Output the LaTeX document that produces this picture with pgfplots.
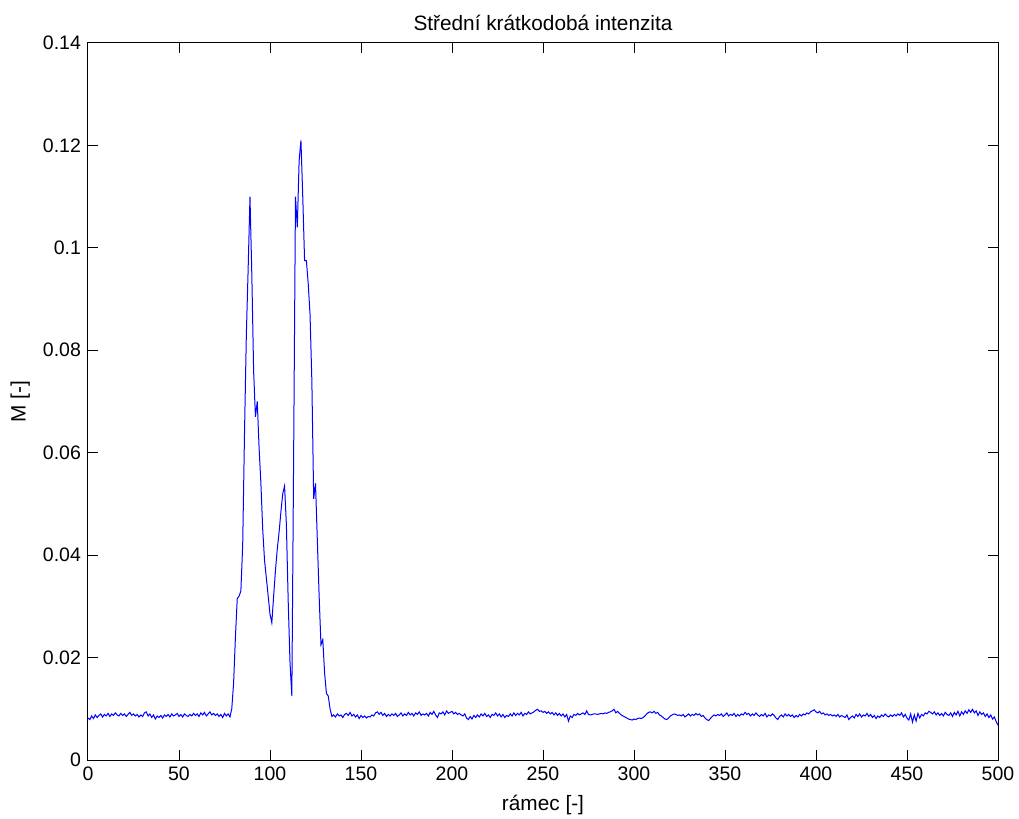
\documentclass[border=0pt]{standalone}
\usepackage{fontspec}
\setmainfont{Liberation Sans}
\usepackage{pgfplots}
\usepackage{pgfplotstable}
\pgfplotsset{compat=1.18}

% one value per frame (frame 0 ... 500)
\pgfplotstableread[row sep=\\, header=false]{
.0082\\ .0079\\ .0086\\ .0081\\ .0088\\ .0083\\ .0087\\ .0090\\ .0084\\ .0089\\
.0086\\ .0091\\ .0085\\ .0090\\ .0087\\ .0092\\ .0088\\ .0086\\ .0091\\ .0087\\
.0090\\ .0085\\ .0089\\ .0093\\ .0087\\ .0090\\ .0086\\ .0089\\ .0084\\ .0088\\
.0085\\ .0092\\ .0094\\ .0086\\ .0090\\ .0083\\ .0088\\ .0080\\ .0086\\ .0083\\
.0087\\ .0082\\ .0088\\ .0085\\ .0089\\ .0084\\ .0090\\ .0086\\ .0088\\ .0091\\
.0085\\ .0089\\ .0084\\ .0090\\ .0087\\ .0085\\ .0089\\ .0086\\ .0091\\ .0087\\
.0090\\ .0085\\ .0092\\ .0088\\ .0093\\ .0086\\ .0090\\ .0094\\ .0088\\ .0091\\
.0087\\ .0090\\ .0085\\ .0089\\ .0083\\ .0091\\ .0086\\ .0090\\ .0084\\ .0100\\
.0150\\ .0240\\ .0315\\ .0320\\ .0330\\ .0420\\ .0640\\ .0830\\ .0960\\ .1100\\
.0950\\ .0760\\ .0670\\ .0700\\ .0610\\ .0540\\ .0450\\ .0390\\ .0355\\ .0320\\
.0285\\ .0268\\ .0320\\ .0370\\ .0412\\ .0445\\ .0485\\ .0520\\ .0535\\ .0460\\
.0310\\ .0190\\ .0125\\ .0600\\ .1100\\ .1040\\ .1170\\ .1210\\ .1100\\ .0975\\
.0975\\ .0930\\ .0870\\ .0740\\ .0510\\ .0540\\ .0430\\ .0320\\ .0225\\ .0235\\
.0170\\ .0130\\ .0125\\ .0100\\ .0085\\ .0088\\ .0084\\ .0090\\ .0086\\ .0088\\
.0083\\ .0089\\ .0091\\ .0087\\ .0093\\ .0086\\ .0089\\ .0084\\ .0088\\ .0081\\
.0087\\ .0083\\ .0086\\ .0082\\ .0085\\ .0084\\ .0088\\ .0086\\ .0092\\ .0094\\
.0089\\ .0093\\ .0087\\ .0091\\ .0085\\ .0089\\ .0086\\ .0090\\ .0087\\ .0091\\
.0085\\ .0088\\ .0092\\ .0086\\ .0090\\ .0087\\ .0093\\ .0088\\ .0091\\ .0086\\
.0092\\ .0089\\ .0094\\ .0087\\ .0090\\ .0088\\ .0091\\ .0086\\ .0093\\ .0089\\
.0095\\ .0088\\ .0083\\ .0092\\ .0090\\ .0094\\ .0088\\ .0096\\ .0091\\ .0093\\
.0095\\ .0090\\ .0093\\ .0089\\ .0091\\ .0088\\ .0086\\ .0090\\ .0082\\ .0079\\
.0085\\ .0080\\ .0087\\ .0083\\ .0088\\ .0084\\ .0090\\ .0086\\ .0091\\ .0085\\
.0088\\ .0083\\ .0089\\ .0087\\ .0092\\ .0086\\ .0090\\ .0084\\ .0089\\ .0083\\
.0087\\ .0085\\ .0090\\ .0086\\ .0092\\ .0087\\ .0091\\ .0088\\ .0093\\ .0086\\
.0091\\ .0089\\ .0094\\ .0090\\ .0092\\ .0094\\ .0097\\ .0099\\ .0095\\ .0096\\
.0093\\ .0095\\ .0091\\ .0094\\ .0090\\ .0093\\ .0088\\ .0092\\ .0087\\ .0091\\
.0086\\ .0090\\ .0084\\ .0089\\ .0076\\ .0086\\ .0083\\ .0089\\ .0087\\ .0091\\
.0088\\ .0090\\ .0092\\ .0089\\ .0096\\ .0089\\ .0088\\ .0089\\ .0090\\ .0090\\
.0089\\ .0090\\ .0091\\ .0090\\ .0092\\ .0091\\ .0093\\ .0094\\ .0096\\ .0099\\
.0092\\ .0095\\ .0091\\ .0088\\ .0086\\ .0084\\ .0082\\ .0080\\ .0079\\ .0078\\
.0080\\ .0079\\ .0081\\ .0082\\ .0081\\ .0083\\ .0086\\ .0090\\ .0093\\ .0094\\
.0092\\ .0095\\ .0091\\ .0093\\ .0088\\ .0086\\ .0083\\ .0080\\ .0079\\ .0082\\
.0086\\ .0088\\ .0090\\ .0089\\ .0087\\ .0088\\ .0086\\ .0089\\ .0084\\ .0087\\
.0090\\ .0086\\ .0089\\ .0087\\ .0091\\ .0088\\ .0090\\ .0085\\ .0087\\ .0082\\
.0079\\ .0077\\ .0081\\ .0085\\ .0088\\ .0086\\ .0089\\ .0087\\ .0090\\ .0085\\
.0088\\ .0092\\ .0086\\ .0089\\ .0087\\ .0091\\ .0085\\ .0089\\ .0086\\ .0090\\
.0088\\ .0093\\ .0089\\ .0091\\ .0086\\ .0090\\ .0087\\ .0092\\ .0088\\ .0085\\
.0089\\ .0086\\ .0091\\ .0084\\ .0088\\ .0086\\ .0090\\ .0087\\ .0082\\ .0079\\
.0085\\ .0088\\ .0084\\ .0090\\ .0086\\ .0089\\ .0085\\ .0088\\ .0083\\ .0087\\
.0084\\ .0089\\ .0086\\ .0090\\ .0088\\ .0092\\ .0090\\ .0094\\ .0096\\ .0098\\
.0094\\ .0092\\ .0095\\ .0090\\ .0092\\ .0088\\ .0090\\ .0087\\ .0089\\ .0086\\
.0088\\ .0085\\ .0089\\ .0084\\ .0087\\ .0085\\ .0083\\ .0088\\ .0079\\ .0083\\
.0086\\ .0082\\ .0089\\ .0085\\ .0090\\ .0084\\ .0088\\ .0086\\ .0091\\ .0085\\
.0089\\ .0083\\ .0087\\ .0081\\ .0086\\ .0083\\ .0088\\ .0085\\ .0090\\ .0086\\
.0084\\ .0088\\ .0085\\ .0089\\ .0086\\ .0090\\ .0087\\ .0092\\ .0084\\ .0089\\
.0082\\ .0078\\ .0090\\ .0074\\ .0088\\ .0076\\ .0091\\ .0082\\ .0089\\ .0086\\
.0092\\ .0090\\ .0095\\ .0093\\ .0090\\ .0094\\ .0088\\ .0092\\ .0087\\ .0091\\
.0086\\ .0093\\ .0089\\ .0087\\ .0092\\ .0085\\ .0093\\ .0088\\ .0095\\ .0086\\
.0094\\ .0089\\ .0096\\ .0091\\ .0098\\ .0093\\ .0099\\ .0092\\ .0096\\ .0087\\
.0094\\ .0089\\ .0092\\ .0085\\ .0090\\ .0083\\ .0088\\ .0080\\ .0084\\ .0075\\
.0068\\
}\intenzita

\begin{document}
\begin{tikzpicture}[font=\fontsize{9.75}{11.7}\selectfont]
\begin{axis}[
    scale only axis,
    width=455pt, height=358.5pt,
    xmin=0, xmax=500, ymin=0, ymax=0.14,
    xtick={0,50,...,500},
    ytick={0,0.02,0.04,0.06,0.08,0.1,0.12,0.14},
    yticklabels={0,0.02,0.04,0.06,0.08,0.1,0.12,0.14},
    scaled y ticks=false,
    /pgf/number format/assume math mode=true,
    tick align=inside,
    major tick length=5pt,
    tick style={black, line width=0.5pt},
    axis line style={black, line width=0.5pt},
    tick label style={font=\fontsize{9.75}{11.7}\selectfont},
    label style={font=\fontsize{10.4}{12.5}\selectfont},
    title={Střední krátkodobá intenzita},
    title style={at={(axis description cs:0.5,1)}, anchor=base,
        font=\fontsize{10.4}{12.5}\selectfont},
    xlabel={rámec [-]},
    xlabel style={at={(axis description cs:0.5,0)}, anchor=base, yshift=-25pt},
    ylabel={M [-]},
    ylabel style={at={(axis description cs:-0.056,0.5)}, anchor=south},
]
\addplot[blue, line width=0.5pt] table[x expr=\coordindex, y index=0] {\intenzita};
\end{axis}
\pgfresetboundingbox
\path (current axis.south west) ++(-44pt,-29pt) coordinate (bl);
\path (current axis.north east) ++(10.5pt,21.5pt) coordinate (tr);
\useasboundingbox (bl) rectangle (tr);
\end{tikzpicture}
\end{document}
